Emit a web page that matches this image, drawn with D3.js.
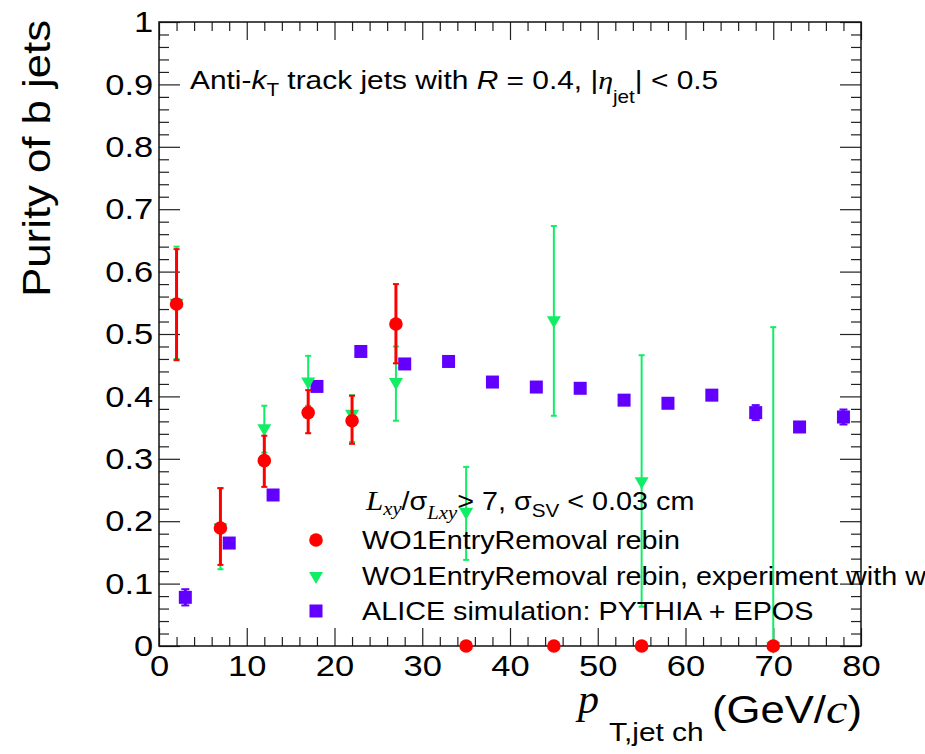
<!DOCTYPE html>
<html>
<head>
<meta charset="utf-8">
<script src="https://cdn.jsdelivr.net/npm/d3@7"></script>
<style>
  body { margin: 0; background: #fff; }
  text { font-family: "Liberation Sans", Arial, sans-serif; fill: #000; }
</style>
</head>
<body>
<div id="chart"></div>
<script>
// chart size
const width = 925;
const height = 754;

// WO1EntryRemoval rebin (red circles)
const redX  = [2, 7, 12, 17, 22, 27, 35, 45, 55, 70];
const redY  = [0.548, 0.189, 0.297, 0.374, 0.361, 0.516, 0, 0, 0, 0];
const redLo = [0.458, 0.130, 0.255, 0.341, 0.324, 0.453, 0, 0, 0, 0];
const redHi = [0.636, 0.253, 0.337, 0.410, 0.401, 0.580, 0, 0, 0, 0];

// WO1EntryRemoval rebin, experiment with ... (green triangles)
const greenX  = [2, 7, 12, 17, 22, 27, 35, 45, 55, 70];
const greenY  = [0.550, 0.190, 0.349, 0.424, 0.372, 0.423, 0.215, 0.522, 0.264, 0];
const greenLo = [0.460, 0.123, 0.310, 0.385, 0.327, 0.361, 0.138, 0.369, 0.063, 0];
const greenHi = [0.640, 0.253, 0.385, 0.465, 0.402, 0.480, 0.287, 0.673, 0.466, 0.511];

// ALICE simulation: PYTHIA + EPOS (purple squares)
const purpleX   = [3, 8, 13, 18, 23, 28, 33, 38, 43, 48, 53, 58, 63, 68, 73, 78];
const purpleY   = [0.078, 0.165, 0.242, 0.416, 0.472, 0.452, 0.456, 0.423, 0.415, 0.413, 0.394, 0.389, 0.402, 0.374, 0.351, 0.367];
const purpleErr = [0.013, 0.005, 0.005, 0.005, 0.005, 0.005, 0.005, 0.005, 0.005, 0.005, 0.005, 0.005, 0.005, 0.012, 0.005, 0.012];

// ticks
const xMajor = [0, 10, 20, 30, 40, 50, 60, 70, 80];
const yMajor = [0, 1, 2, 3, 4, 5, 6, 7, 8, 9, 10].map(i => i / 10);

const SX = 1.15; // ROOT's Helvetica is wider than Liberation Sans

const svg = d3.select("#chart")
    .append("svg")
    .attr("width", width)
    .attr("height", height);

svg.append("rect").attr("width", width).attr("height", height).attr("fill", "#fff");

const x = d3.scaleLinear().domain([0, 80]).range([159, 861]);
const y = d3.scaleLinear().domain([0, 1]).range([646, 22]);

const xMinor = d3.range(0, 81, 2).filter(v => v % 10 !== 0);
const yMinor = d3.range(0, 51, 1).filter(i => i % 5 !== 0).map(i => i / 50);

// bottom axis
const gx = svg.append("g").attr("transform", `translate(0,${y(0)})`)
    .call(d3.axisBottom(x).tickValues(xMajor).tickSize(-18).tickPadding(9).tickFormat(d3.format("d")));
gx.selectAll("text").attr("font-size", 30).attr("transform", `scale(${SX},1)`).style("font-family", "Liberation Sans");
svg.append("g").attr("transform", `translate(0,${y(0)})`)
    .call(d3.axisBottom(x).tickValues(xMinor).tickSize(-9).tickFormat(""));

// top axis
svg.append("g").attr("transform", `translate(0,${y(1)})`)
    .call(d3.axisTop(x).tickValues(xMajor).tickSize(-18).tickFormat(""));
svg.append("g").attr("transform", `translate(0,${y(1)})`)
    .call(d3.axisTop(x).tickValues(xMinor).tickSize(-9).tickFormat(""));

// left axis
const gy = svg.append("g").attr("transform", `translate(${x(0)},0)`)
    .call(d3.axisLeft(y).tickValues(yMajor).tickSize(-21).tickPadding(5)
        .tickFormat(d => (d === 0 || d === 1) ? String(d) : d.toFixed(1)));
gy.selectAll("text").attr("font-size", 30).attr("transform", `scale(${SX},1)`).style("font-family", "Liberation Sans");
svg.append("g").attr("transform", `translate(${x(0)},0)`)
    .call(d3.axisLeft(y).tickValues(yMinor).tickSize(-10).tickFormat(""));

// right axis
svg.append("g").attr("transform", `translate(${x(80)},0)`)
    .call(d3.axisRight(y).tickValues(yMajor).tickSize(-21).tickFormat(""));
svg.append("g").attr("transform", `translate(${x(80)},0)`)
    .call(d3.axisRight(y).tickValues(yMinor).tickSize(-10).tickFormat(""));

svg.selectAll(".domain").remove();
svg.selectAll(".tick line").attr("stroke", "#222").attr("stroke-width", 1.2);

// frame
svg.append("rect")
    .attr("x", x(0)).attr("y", y(1))
    .attr("width", x(80) - x(0)).attr("height", y(0) - y(1))
    .attr("fill", "none").attr("stroke", "#111").attr("stroke-width", 1.5);

// error bars helper
function errorBars(xs, lo, hi, color, w, cap) {
    const g = svg.append("g");
    const idx = d3.range(xs.length).filter(i => hi[i] > lo[i]);
    g.selectAll("line.bar").data(idx).join("line")
        .attr("x1", i => x(xs[i])).attr("x2", i => x(xs[i]))
        .attr("y1", i => y(lo[i])).attr("y2", i => y(hi[i]))
        .attr("stroke", color).attr("stroke-width", w);
    [lo, hi].forEach(arr => {
        g.selectAll(null).data(idx).join("line")
            .attr("x1", i => x(xs[i]) - cap / 2).attr("x2", i => x(xs[i]) + cap / 2)
            .attr("y1", i => y(arr[i])).attr("y2", i => y(arr[i]))
            .attr("stroke", color).attr("stroke-width", 2);
    });
}

const RED = "#ff0000", GREEN = "#11ee66", PURPLE = "#6200ff";

// purple squares
errorBars(purpleX, purpleY.map((v, i) => v - purpleErr[i]), purpleY.map((v, i) => v + purpleErr[i]), PURPLE, 3, 8);
svg.append("g").selectAll("rect").data(purpleX).join("rect")
    .attr("x", (d, i) => x(d) - 6.5).attr("y", (d, i) => y(purpleY[i]) - 6.5)
    .attr("width", 13).attr("height", 13).attr("fill", PURPLE);

// green triangles
errorBars(greenX, greenLo, greenHi, GREEN, 2, 6);
const tri = d3.symbol().type(d3.symbolTriangle).size(85);
svg.append("g").selectAll("path").data(greenX).join("path")
    .attr("d", tri)
    .attr("transform", (d, i) => `translate(${x(d)},${y(greenY[i])}) rotate(180)`)
    .attr("fill", GREEN);

// red circles
errorBars(redX, redLo, redHi, RED, 3, 6);
svg.append("g").selectAll("circle").data(redX).join("circle")
    .attr("cx", d => x(d)).attr("cy", (d, i) => y(redY[i]))
    .attr("r", 6.8).attr("fill", RED);

// axis titles
svg.append("text")
    .attr("transform", `translate(50,20) rotate(-90) scale(${SX},1)`)
    .attr("text-anchor", "end").attr("font-size", 38)
    .text("Purity of b jets");

svg.append("text")
    .attr("transform", `translate(578,713)`)
    .attr("font-size", 42).style("font-family", "Liberation Serif").attr("font-style", "italic")
    .text("p");
svg.append("text")
    .attr("transform", `translate(609,741) scale(${SX},1)`)
    .attr("font-size", 26)
    .text("T,jet ch");
const xt = svg.append("text")
    .attr("transform", `translate(862,723) scale(${SX},1)`)
    .attr("text-anchor", "end").attr("font-size", 38);
xt.append("tspan").text("(GeV/");
xt.append("tspan").style("font-family", "Liberation Serif").attr("font-style", "italic").attr("font-size", 42).text("c");
xt.append("tspan").text(")");

// annotation
const ann = svg.append("text")
    .attr("transform", `translate(190,89) scale(${SX},1)`)
    .attr("font-size", 26);
ann.append("tspan").text("Anti-");
ann.append("tspan").attr("font-style", "italic").text("k");
ann.append("tspan").attr("font-size", 18).attr("dy", 7).text("T");
ann.append("tspan").attr("dy", -7).text(" track jets with ");
ann.append("tspan").attr("font-style", "italic").text("R");
ann.append("tspan").text(" = 0.4, |");
ann.append("tspan").style("font-family", "Liberation Serif").attr("font-style", "italic").text("η");
ann.append("tspan").attr("font-size", 18).attr("dy", 14).text("jet");
ann.append("tspan").attr("dy", -14).text("| < 0.5");

// legend
const hdr = svg.append("text")
    .attr("transform", `translate(366,510) scale(${SX},1)`)
    .attr("font-size", 25);
hdr.append("tspan").style("font-family", "Liberation Serif").attr("font-style", "italic").attr("font-size", 27).text("L");
hdr.append("tspan").style("font-family", "Liberation Serif").attr("font-style", "italic").attr("font-size", 18).attr("dy", 5).text("xy");
hdr.append("tspan").attr("dy", -5).text("/σ");
hdr.append("tspan").style("font-family", "Liberation Serif").attr("font-style", "italic").attr("font-size", 18).attr("dy", 9).text("Lxy");
hdr.append("tspan").attr("dy", -9).text("> 7, σ");
hdr.append("tspan").attr("font-size", 18).attr("dy", 7).text("SV");
hdr.append("tspan").attr("dy", -7).text(" < 0.03 cm");

const legendLabels = ["WO1EntryRemoval rebin",
                      "WO1EntryRemoval rebin, experiment with weights",
                      "ALICE simulation: PYTHIA + EPOS"];
const legendY = [540, 576, 611];

svg.append("circle").attr("cx", 316).attr("cy", legendY[0]).attr("r", 6.8).attr("fill", RED);
svg.append("path").attr("d", tri).attr("transform", `translate(316,${legendY[1]}) rotate(180)`).attr("fill", GREEN);
svg.append("rect").attr("x", 316 - 6.5).attr("y", legendY[2] - 6.5).attr("width", 13).attr("height", 13).attr("fill", PURPLE);

svg.append("g").selectAll("text").data(legendLabels).join("text")
    .attr("transform", (d, i) => `translate(362,${legendY[i] + 9}) scale(${SX},1)`)
    .attr("font-size", 25)
    .text(d => d);
</script>
</body>
</html>
